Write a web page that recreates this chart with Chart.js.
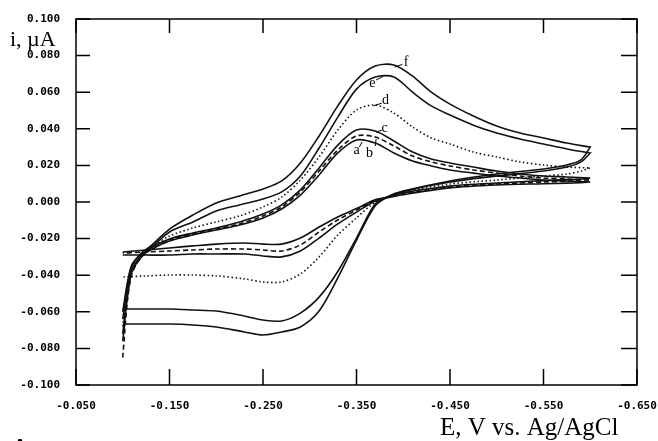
<!DOCTYPE html>
<html>
<head>
<meta charset="utf-8">
<script src="https://cdn.jsdelivr.net/npm/chart.js@4.4.1/dist/chart.umd.min.js"></script>
<style>
  html, body { margin: 0; padding: 0; background: #fff; }
</style>
</head>
<body>
<canvas id="cv" width="658" height="441"></canvas>
<script>
// potential (V) for the forward and the return sweep
const E_fwd = [-0.100, -0.105, -0.110, -0.120, -0.130, -0.150, -0.175, -0.200, -0.225, -0.250, -0.270, -0.290, -0.310,
  -0.330, -0.350, -0.370, -0.390, -0.410, -0.430, -0.450, -0.475, -0.500, -0.525, -0.550, -0.575, -0.600];
const E_rev = [-0.600, -0.590, -0.575, -0.550, -0.500, -0.450, -0.400, -0.385, -0.370, -0.350, -0.330, -0.310, -0.290,
  -0.270, -0.250, -0.230, -0.200, -0.175, -0.150, -0.125, -0.100];

// current (uA)
const a_fwd = [-0.076, -0.052, -0.038, -0.030, -0.026, -0.0213, -0.0180, -0.0153, -0.0126, -0.0087, -0.0038, 0.0038, 0.0148,
  0.0268, 0.0339, 0.0322, 0.0268, 0.0224, 0.0197, 0.0175, 0.0158, 0.0142, 0.0131, 0.0120, 0.0115, 0.0109];
const a_rev = [0.0109, 0.0106, 0.0103, 0.0100, 0.0093, 0.0077, 0.0040, 0.0025, 0.0012, -0.0036, -0.0082, -0.0137, -0.0197,
  -0.0230, -0.0230, -0.0224, -0.0230, -0.0240, -0.0251, -0.0262, -0.0273];

const b_fwd = [-0.085, -0.054, -0.039, -0.030, -0.026, -0.0208, -0.0175, -0.0148, -0.0120, -0.0076, -0.0027, 0.0055, 0.0169,
  0.0284, 0.0361, 0.0355, 0.0306, 0.0251, 0.0219, 0.0197, 0.0175, 0.0158, 0.0142, 0.0131, 0.0126, 0.0120];
const b_rev = [0.0120, 0.0117, 0.0113, 0.0109, 0.0098, 0.0082, 0.0045, 0.0028, 0.0008, -0.0044, -0.0098, -0.0164, -0.0235,
  -0.0268, -0.0262, -0.0257, -0.0257, -0.0262, -0.0268, -0.0273, -0.0279];

const c_fwd = [-0.072, -0.050, -0.037, -0.029, -0.025, -0.0202, -0.0169, -0.0142, -0.0109, -0.0066, -0.0016, 0.0066, 0.0186,
  0.0311, 0.0393, 0.0388, 0.0333, 0.0273, 0.0235, 0.0213, 0.0191, 0.0169, 0.0153, 0.0142, 0.0137, 0.0131];
const c_rev = [0.0131, 0.0126, 0.0122, 0.0117, 0.0104, 0.0087, 0.0050, 0.0030, 0.0005, -0.0055, -0.0120, -0.0197, -0.0268,
  -0.0300, -0.0295, -0.0284, -0.0284, -0.0284, -0.0290, -0.0290, -0.0290];

const d_fwd = [-0.068, -0.048, -0.036, -0.029, -0.025, -0.0186, -0.0142, -0.0109, -0.0076, -0.0027, 0.0027, 0.0120, 0.0246,
  0.0393, 0.0503, 0.0530, 0.0486, 0.0410, 0.0350, 0.0317, 0.0273, 0.0246, 0.0219, 0.0202, 0.0191, 0.0186];
const d_rev = [0.0186, 0.0169, 0.0153, 0.0142, 0.0120, 0.0098, 0.0055, 0.0032, 0.0000, -0.0087, -0.0180, -0.0300, -0.0393,
  -0.0437, -0.0437, -0.0420, -0.0404, -0.0399, -0.0399, -0.0404, -0.0410];

const e_fwd = [-0.064, -0.046, -0.035, -0.028, -0.025, -0.0164, -0.0109, -0.0049, -0.0016, 0.0016, 0.0055, 0.0142, 0.0295,
  0.0464, 0.0617, 0.0683, 0.0683, 0.0600, 0.0525, 0.0475, 0.0420, 0.0377, 0.0344, 0.0317, 0.0290, 0.0268];
const e_rev = [0.0268, 0.0219, 0.0191, 0.0169, 0.0142, 0.0109, 0.0058, 0.0032, -0.0010, -0.0197, -0.0380, -0.0520, -0.0607,
  -0.0650, -0.0645, -0.0623, -0.0596, -0.0590, -0.0585, -0.0585, -0.0585];

const f_fwd = [-0.060, -0.044, -0.034, -0.028, -0.024, -0.0148, -0.0071, -0.0005, 0.0033, 0.0071, 0.0115, 0.0213, 0.0361,
  0.0525, 0.0667, 0.0743, 0.0749, 0.0688, 0.0600, 0.0535, 0.0470, 0.0415, 0.0377, 0.0350, 0.0322, 0.0300];
const f_rev = [0.0300, 0.0230, 0.0202, 0.0180, 0.0153, 0.0115, 0.0060, 0.0032, -0.0020, -0.0208, -0.0415, -0.0596, -0.0683,
  -0.0710, -0.0727, -0.0710, -0.0683, -0.0672, -0.0667, -0.0667, -0.0667];

const xTicks = [-0.05, -0.15, -0.25, -0.35, -0.45, -0.55, -0.65];
const yTicks = [-0.1, -0.08, -0.06, -0.04, -0.02, 0, 0.02, 0.04, 0.06, 0.08, 0.1];

const curves = [
  { name: "a", fwd: a_fwd, rev: a_rev, dash: [] },
  { name: "b", fwd: b_fwd, rev: b_rev, dash: [5, 3] },
  { name: "c", fwd: c_fwd, rev: c_rev, dash: [] },
  { name: "d", fwd: d_fwd, rev: d_rev, dash: [1.5, 2.5] },
  { name: "e", fwd: e_fwd, rev: e_rev, dash: [] },
  { name: "f", fwd: f_fwd, rev: f_rev, dash: [] }
];

// where the letters sit, with a short leader line back to their curve
const tags = [
  { t: "f", x: -0.403, y: 0.0762, x0: -0.391, y0: 0.0737, x1: -0.399, y1: 0.0752 },
  { t: "e", x: -0.367, y: 0.0650, x0: -0.379, y0: 0.0688, x1: -0.371, y1: 0.0667 },
  { t: "d", x: -0.381, y: 0.0555, x0: -0.368, y0: 0.0525, x1: -0.377, y1: 0.0540 },
  { t: "c", x: -0.380, y: 0.0405, x0: -0.371, y0: 0.0382, x1: -0.377, y1: 0.0393 },
  { t: "a", x: -0.350, y: 0.0282, x0: -0.356, y0: 0.0328, x1: -0.353, y1: 0.0300 },
  { t: "b", x: -0.364, y: 0.0266, x0: -0.371, y0: 0.0344, x1: -0.370, y1: 0.0306 }
];

const datasets = curves.map(c => ({
  label: c.name,
  data: E_fwd.map((e, k) => ({ x: e, y: c.fwd[k] })).concat(E_rev.map((e, k) => ({ x: e, y: c.rev[k] }))),
  borderColor: "#111",
  borderWidth: 1.6,
  borderDash: c.dash,
  pointRadius: 0,
  tension: 0.3,
  fill: false
}));

const frame = {
  id: "frame",
  afterDraw(chart) {
    const { ctx, chartArea: a, scales: { x, y } } = chart;
    ctx.save();
    ctx.strokeStyle = "#000";
    ctx.lineWidth = 1.5;
    ctx.strokeRect(a.left, a.top, a.right - a.left, a.bottom - a.top);
    ctx.beginPath();
    xTicks.forEach(v => {
      const px = x.getPixelForValue(v);
      ctx.moveTo(px, a.bottom); ctx.lineTo(px, a.bottom - 16);
      ctx.moveTo(px, a.top); ctx.lineTo(px, a.top + 14);
    });
    yTicks.forEach(v => {
      const py = y.getPixelForValue(v);
      ctx.moveTo(a.left, py); ctx.lineTo(a.left + 14, py);
      ctx.moveTo(a.right, py); ctx.lineTo(a.right - 16, py);
    });
    ctx.stroke();

    // curve letters
    ctx.lineWidth = 1;
    ctx.fillStyle = "#000";
    ctx.font = "14px 'Liberation Serif'";
    ctx.textAlign = "center";
    ctx.textBaseline = "middle";
    tags.forEach(g => {
      ctx.beginPath();
      ctx.moveTo(x.getPixelForValue(g.x0), y.getPixelForValue(g.y0));
      ctx.lineTo(x.getPixelForValue(g.x1), y.getPixelForValue(g.y1));
      ctx.stroke();
      ctx.fillText(g.t, x.getPixelForValue(g.x), y.getPixelForValue(g.y));
    });

    // axis titles
    ctx.font = "22px 'Liberation Serif'";
    ctx.textAlign = "left";
    ctx.textBaseline = "alphabetic";
    ctx.fillText("i, \u00b5A", 10, 46);
    ctx.font = "25px 'Liberation Serif'";
    ctx.fillText("E, V vs. Ag/AgCl", 440, 435);
    ctx.font = "bold 22px 'Liberation Serif'";
    ctx.fillText("A", 12, 453);
    ctx.restore();
  }
};

const tickFont = { family: "'DejaVu Sans Mono'", weight: "bold", size: 11 };

new Chart(document.getElementById("cv"), {
  type: "line",
  data: { datasets },
  options: {
    responsive: false,
    animation: false,
    events: [],
    layout: { padding: { top: 19, right: 21, left: 0, bottom: 0 } },
    plugins: { legend: { display: false }, tooltip: { enabled: false } },
    scales: {
      x: {
        type: "linear",
        min: -0.65,
        max: -0.05,
        reverse: true,
        grid: { display: false },
        border: { display: false },
        ticks: { color: "#000", font: tickFont, padding: 7, maxRotation: 0, autoSkip: false,
          callback: v => v.toFixed(3) },
        afterBuildTicks: s => { s.ticks = xTicks.map(v => ({ value: v })); },
        afterFit: s => { s.height = 56; s.paddingLeft = 0; s.paddingRight = 0; }
      },
      y: {
        type: "linear",
        min: -0.1,
        max: 0.1,
        grid: { display: false },
        border: { display: false },
        ticks: { color: "#000", font: tickFont, padding: 8, autoSkip: false,
          callback: v => v.toFixed(3) },
        afterBuildTicks: s => { s.ticks = yTicks.map(v => ({ value: v })); },
        afterFit: s => { s.width = 76; s.paddingTop = 0; s.paddingBottom = 0; }
      }
    }
  },
  plugins: [frame]
});
</script>
</body>
</html>
